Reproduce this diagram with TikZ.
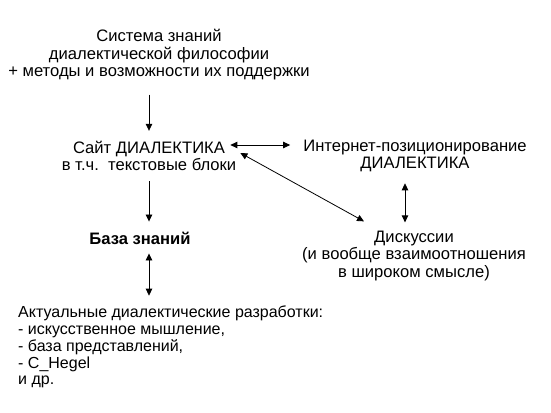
\documentclass[tikz,border=0pt]{standalone}
\usepackage{fontspec}
\setmainfont{Liberation Sans}
\usetikzlibrary{arrows.meta,positioning,calc}

\begin{document}
\begin{tikzpicture}[
    x=1pt, y=-1pt,
    txt/.style={align=center, inner sep=0pt, font=\fontsize{16.6}{17.5}\selectfont},
    arr/.style={-{Triangle[length=7pt,width=6.5pt]}, line width=0.8pt},
    dbl/.style={{Triangle[length=7pt,width=6.5pt]}-{Triangle[length=7pt,width=6.5pt]}, line width=0.8pt},
]
    \useasboundingbox (0,0) rectangle (551,412);
    \node[txt] (system) at (159,55) {Система знаний\\диалектической философии\\+ методы и возможности их поддержки};
    \node[txt] (site) at (149,156) {Сайт ДИАЛЕКТИКА\\в т.ч.\ \ текстовые блоки};
    \node[txt] (inet) at (415,156) {Интернет-позиционирование\\ДИАЛЕКТИКА};
    \node[txt, font=\fontsize{16.6}{17.5}\selectfont\bfseries] (base) at (140,238) {База знаний};
    \node[txt] (disc) at (414,256) {Дискуссии\\(и вообще взаимоотношения\\в широком смысле)};
    \node[txt, align=left, anchor=west, font=\fontsize{16}{16.8}\selectfont] (dev) at (18,347) {Актуальные диалектические разработки:\\- искусственное мышление,\\- база представлений,\\- C\_Hegel\\и др.};
    % connectors
    \draw[arr, shorten <=14pt, shorten >=10pt] (system.south -| site.north) -- (site.north);
    \draw[arr, shorten <=10pt, shorten >=10pt] (site.south) -- (site.south |- base.north);
    \draw[dbl, shorten <=9pt, shorten >=10pt] (base.south -| site.south) -- (dev.north -| site.south);
    \draw[dbl] ($(site.east)+(-6,-11)$) -- ($(inet.west)+(-13,-11)$);
    \draw[dbl] ($(site.east)+(4,-3)$) -- ($(disc.north)+(-50,-9.5)$);
    \draw[dbl, shorten <=11pt, shorten >=8.5pt] ($(inet.south)+(-10,0)$) -- ($(disc.north)+(-9,0)$);
\end{tikzpicture}
\end{document}
